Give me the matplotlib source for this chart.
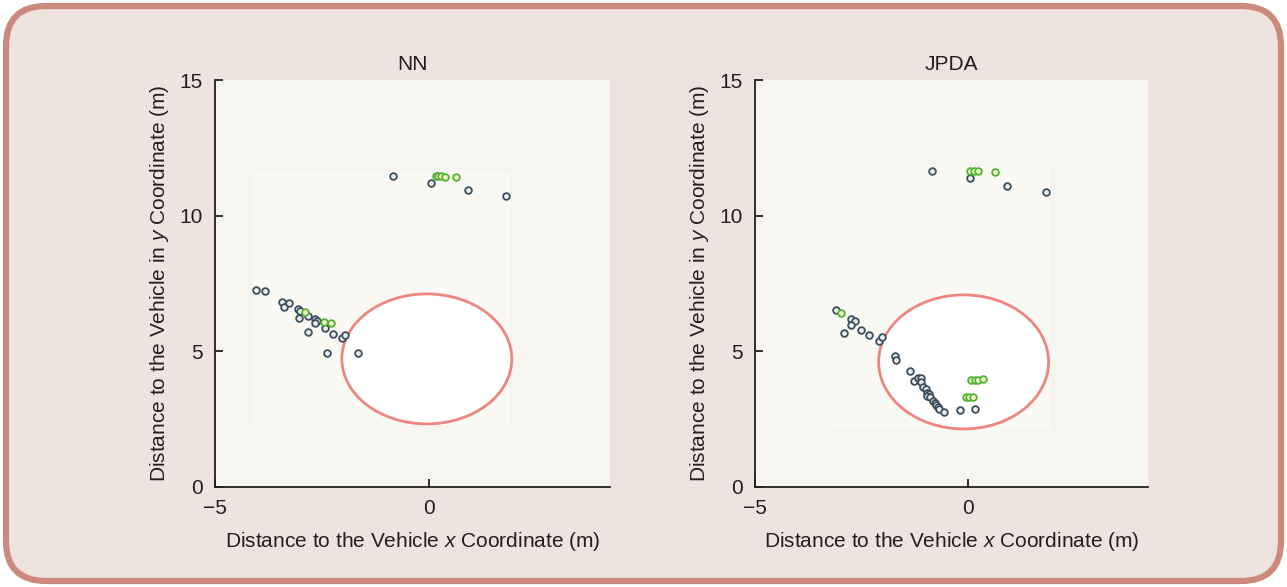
import matplotlib
matplotlib.use("Agg")
import matplotlib.pyplot as plt
from matplotlib.patches import Ellipse, Rectangle, FancyBboxPatch

plt.rcParams['font.family'] = ['Liberation Sans', 'DejaVu Sans']
plt.rcParams['mathtext.fontset'] = 'custom'
plt.rcParams['mathtext.rm'] = 'Liberation Sans'
plt.rcParams['mathtext.it'] = 'Liberation Sans:italic'

# NN tracker
nn_black_x = [-0.83, 0.05, 0.92, 1.81, -4.05, -3.82, -3.44, -3.38, -3.28, -3.07, -3.01,
              -3.03, -2.82, -2.66, -2.61, -2.66, -2.83, -2.44, -2.25, -2.02, -1.96, -2.38, -1.66]
nn_black_y = [11.48, 11.22, 10.93, 10.73, 7.27, 7.21, 6.83, 6.65, 6.77, 6.57, 6.50,
              6.22, 6.30, 6.20, 6.13, 6.03, 5.71, 5.85, 5.65, 5.48, 5.60, 4.95, 4.95]
nn_green_x = [0.16, 0.22, 0.28, 0.37, 0.63, -2.90, -2.45, -2.30]
nn_green_y = [11.45, 11.47, 11.47, 11.44, 11.41, 6.46, 6.07, 6.06]

# JPDA tracker
jpda_black_x = [-0.85, 0.04, 0.93, 1.84, -3.10, -2.75, -2.65, -2.74, -2.92, -2.51, -2.32,
                -2.08, -2.02, -1.71, -1.69, -1.36, -1.26, -1.18, -1.10, -1.10, -1.06, -0.99,
                -0.95, -0.92, -0.97, -0.88, -0.81, -0.77, -0.75, -0.71, -0.68, -0.55, -0.18, 0.16]
jpda_black_y = [11.66, 11.40, 11.11, 10.87, 6.51, 6.18, 6.11, 5.97, 5.68, 5.79, 5.59,
                5.39, 5.52, 4.84, 4.68, 4.26, 3.92, 4.01, 4.03, 3.86, 3.67, 3.60,
                3.48, 3.42, 3.35, 3.33, 3.18, 3.08, 3.01, 2.94, 2.89, 2.78, 2.83, 2.87]
jpda_green_x = [0.06, 0.14, 0.23, 0.64, -2.99, 0.07, 0.16, 0.24, 0.35, -0.05, 0.03, 0.12]
jpda_green_y = [11.65, 11.65, 11.65, 11.60, 6.41, 3.94, 3.95, 3.96, 3.97, 3.33, 3.33, 3.32]

# ellipse (center x, center y, width, height) and image area (x0, x1, y0, y1)
nn_ellipse = (-0.05, 4.72, 3.97, 4.79)
jpda_ellipse = (-0.1, 4.61, 3.99, 4.94)
nn_region = (-4.11, 1.89, 2.29, 11.6)
jpda_region = (-3.17, 1.92, 2.1, 11.8)

titles = ['NN', 'JPDA']

fig = plt.figure(figsize=(12.87, 5.87), dpi=100, facecolor='white')
frame = FancyBboxPatch((0.06, 0.06), 12.75, 5.75,
                       boxstyle="round,pad=0,rounding_size=0.4",
                       transform=fig.dpi_scale_trans,
                       facecolor='#EFE3E0', edgecolor='#CC8A7E', linewidth=4.5,
                       zorder=-10)
fig.patches.append(frame)

ax1 = fig.add_axes([0.167, 0.1704, 0.307, 0.6933])
ax2 = fig.add_axes([0.5866, 0.1704, 0.3054, 0.6933])

panels = [
    (ax1, nn_black_x, nn_black_y, nn_green_x, nn_green_y, nn_ellipse, nn_region),
    (ax2, jpda_black_x, jpda_black_y, jpda_green_x, jpda_green_y, jpda_ellipse, jpda_region),
]

fs = 15
for i, (ax, bx, by, gx, gy, ell, reg) in enumerate(panels):
    ax.set_facecolor('#F6F5EF')
    ax.add_patch(Rectangle((reg[0], reg[2]), reg[1] - reg[0], reg[3] - reg[2],
                           facecolor='#FAF9F4', edgecolor='none', zorder=0))
    ax.add_patch(Ellipse((ell[0], ell[1]), ell[2], ell[3], facecolor='white',
                         edgecolor='#EE857E', linewidth=2.0, zorder=1))
    ax.plot(bx, by, 'o', markersize=4.8, markerfacecolor='#EEF0EE',
            markeredgecolor='#3A4E5E', markeredgewidth=1.3, linestyle='none', zorder=3)
    ax.plot(gx, gy, 'o', markersize=4.8, markerfacecolor='#F4F7C8',
            markeredgecolor='#4FB335', markeredgewidth=1.3, linestyle='none', zorder=4)

    ax.set_xlim(-5, 4.23)
    ax.set_ylim(0, 15)
    ax.set_xticks([-5, 0])
    ax.set_yticks([0, 5, 10, 15])
    ax.spines['top'].set_visible(False)
    ax.spines['right'].set_visible(False)
    for s in ['left', 'bottom']:
        ax.spines[s].set_linewidth(1.3)
        ax.spines[s].set_color('#231F20')
    ax.tick_params(direction='in', length=6, width=1.3, color='#231F20',
                   labelsize=fs, labelcolor='#231F20', pad=9)
    ax.set_title(titles[i], fontsize=fs, color='#231F20', pad=7)
    ax.set_xlabel('Distance to the Vehicle $x$ Coordinate (m)', fontsize=fs,
                  color='#231F20', labelpad=8)
    ax.set_ylabel('Distance to the Vehicle in $y$ Coordinate (m)', fontsize=fs,
                  color='#231F20', labelpad=6)

fig.savefig('out.png', dpi=100, facecolor='white')
